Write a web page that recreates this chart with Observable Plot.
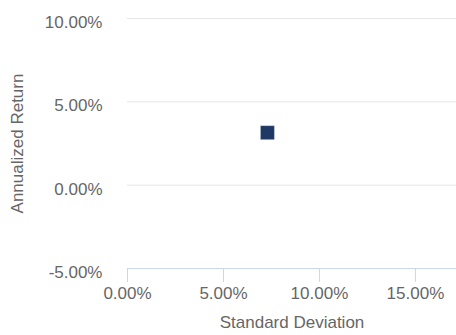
<!DOCTYPE html>
<html>
<head>
<meta charset="utf-8">
<script src="https://cdn.jsdelivr.net/npm/d3@7"></script>
<script src="https://cdn.jsdelivr.net/npm/@observablehq/plot@0.6"></script>
<style>
  html, body { margin: 0; padding: 0; background: #fff; }
  #chart svg { font-family: "Liberation Sans", Arial, sans-serif; }
</style>
</head>
<body>
<div id="chart"></div>
<script>
const series = ["Portfolio"];
const stdDev = [7.29];
const annReturn = [3.15];
const xTicks = [0, 5, 10, 15];
const yTicks = [-5, 0, 5, 10];
const xTitle = "Standard Deviation";
const yTitle = "Annualized Return";

const points = series.map((s, i) => ({name: s, x: stdDev[i], y: annReturn[i]}));
const fmt = d => d.toFixed(2) + "%";

const chart = Plot.plot({
  width: 456,
  height: 335,
  marginLeft: 127,
  marginRight: 0,
  marginTop: 18,
  marginBottom: 67,
  style: {fontSize: "17px", color: "#666666", background: "#ffffff", fontFamily: "'Liberation Sans', Arial, sans-serif"},
  x: {domain: [0, 17.14], ticks: xTicks},
  y: {domain: [-5, 10], ticks: yTicks},
  marks: [
    Plot.gridY(yTicks, {stroke: "#e6e6e6", strokeOpacity: 1, strokeWidth: 1}),
    Plot.ruleY([-5], {stroke: "#ccd6eb", strokeWidth: 1}),
    Plot.axisX(xTicks, {tickSize: 14, stroke: "#ccd6eb", strokeOpacity: 1, tickFormat: () => "", label: null}),
    Plot.axisX(xTicks, {tickSize: 0, tickPadding: 18, tickFormat: fmt, fill: "#666666", fontSize: 17, label: null}),
    Plot.axisY(yTicks, {tickSize: 0, tickPadding: 25, tickFormat: fmt, fill: "#666666", fontSize: 17, dy: 4, label: null}),
    Plot.text([xTitle], {frameAnchor: "bottom", dy: 59, fill: "#666666", fontSize: 17}),
    Plot.text([yTitle], {frameAnchor: "left", textAnchor: "middle", rotate: -90, dx: -110, fill: "#666666", fontSize: 17}),
    Plot.dot(points, {x: "x", y: "y", symbol: "square", r: 7.9, fill: "#1f3864", stroke: "#ffffff", strokeOpacity: 0.3, strokeWidth: 1})
  ]
});
document.getElementById("chart").appendChild(chart);
</script>
</body>
</html>
